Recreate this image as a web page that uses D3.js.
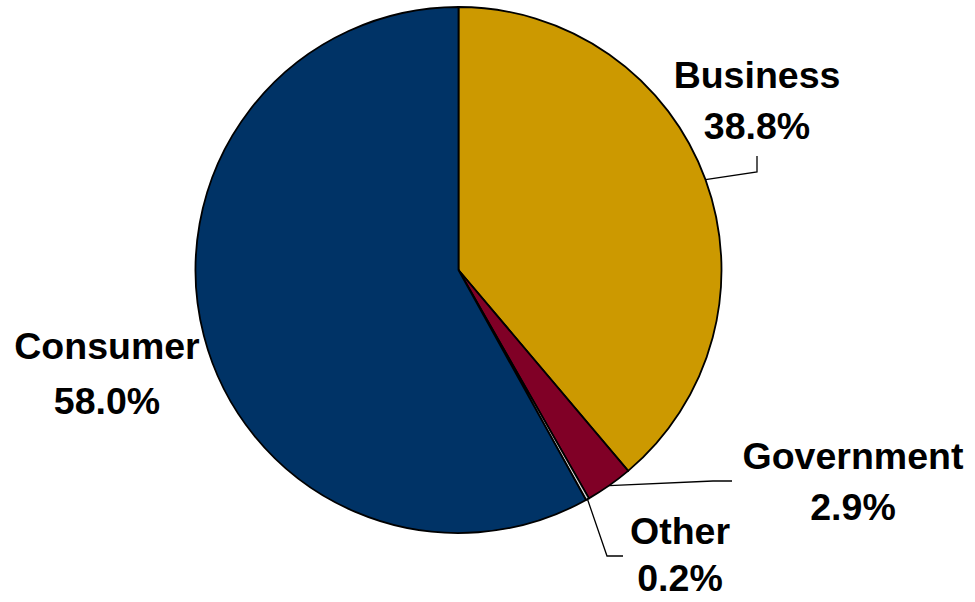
<!DOCTYPE html>
<html>
<head>
<meta charset="utf-8">
<script src="https://cdn.jsdelivr.net/npm/d3@7"></script>
<style>
html,body{margin:0;padding:0;background:#fff;}
svg{display:block;}
text{font-family:"Liberation Sans",Arial,sans-serif;font-weight:bold;fill:#000;}
</style>
</head>
<body>
<svg id="chart" width="975" height="602"></svg>
<script>
const categories = ["Business", "Government", "Other", "Consumer"];
const values = [38.8, 2.9, 0.2, 58.0];
const labels = ["38.8%", "2.9%", "0.2%", "58.0%"];
const colors = ["#CC9900", "#800026", "#D9D9D9", "#003366"];

const svg = d3.select("#chart");
const cx = 458.5, cy = 270, r = 263;
const g = svg.append("g").attr("transform", `translate(${cx},${cy})`);

const pie = d3.pie().sort(null).value(d => d.v);
const data = pie(categories.map((c, i) => ({c, v: values[i], l: labels[i], col: colors[i]})));
const arc = d3.arc().innerRadius(0).outerRadius(r);

g.selectAll("path.slice").data(data).enter().append("path")
  .attr("class", "slice")
  .attr("d", arc)
  .attr("fill", d => d.data.col)
  .attr("stroke", "#000")
  .attr("stroke-width", 1.8)
  .attr("stroke-linejoin", "round");

// label layout (absolute page positions)
const layout = {
  "Business":   {tx: 757, ty1: 88,  ty2: 139, elbow: [[757,172],[757,156]]},
  "Government": {tx: 853, ty1: 469, ty2: 520, elbow: [[713,481],[732,481]]},
  "Other":      {tx: 680, ty1: 544, ty2: 591, elbow: [[607,556],[623,556]]},
  "Consumer":   {tx: 107, ty1: 359, ty2: 414, elbow: null}
};

data.forEach(d => {
  const L = layout[d.data.c];
  const mid = (d.startAngle + d.endAngle) / 2;
  if (L.elbow) {
    const sx = cx + r * Math.sin(mid), sy = cy - r * Math.cos(mid);
    const pts = [[sx, sy]].concat(L.elbow);
    svg.append("path")
      .attr("d", d3.line()(pts))
      .attr("fill", "none")
      .attr("stroke", "#000")
      .attr("stroke-width", 1.3);
  }
  svg.append("text").attr("x", L.tx).attr("y", L.ty1)
    .attr("text-anchor", "middle").attr("font-size", 37.5).text(d.data.c);
  svg.append("text").attr("x", L.tx).attr("y", L.ty2)
    .attr("text-anchor", "middle").attr("font-size", 37.5).text(d.data.l);
});
</script>
</body>
</html>
